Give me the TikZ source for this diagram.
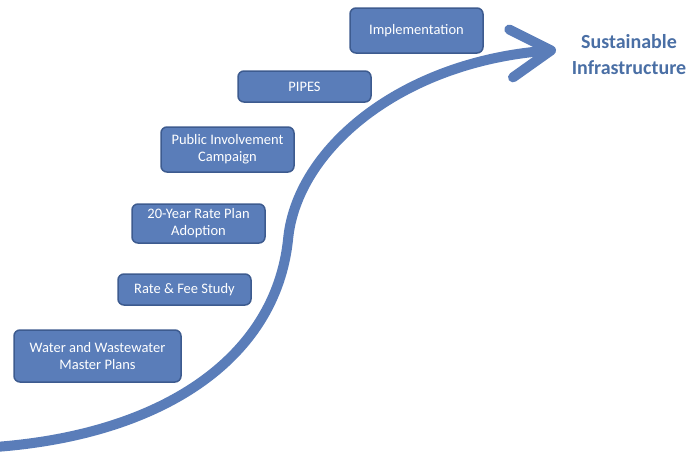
\documentclass[tikz,border=0pt]{standalone}
\usepackage{fontspec}
\setmainfont{Carlito}
\usetikzlibrary{arrows.meta}
\definecolor{stepfill}{HTML}{5A7DB9}
\definecolor{stepline}{HTML}{3D5B8F}
\definecolor{goaltext}{HTML}{4A6FA5}
\tikzset{
  stepbox/.style={draw=stepline,line width=1.5pt,fill=stepfill,rounded corners=6pt,
    text=white,align=center,font=\fontsize{14.5}{17}\selectfont,inner sep=0pt},
}
\begin{document}
\begin{tikzpicture}[x=1pt,y=-1pt]
    \useasboundingbox (0,0) rectangle (690,458);

    % the path up
    \draw [-{Straight Barb[round,length=40pt,width=48pt]},stepfill,line width=10pt,line cap=round]
      (-5,447) .. controls (160,435) and (275,360) .. (288,240)
      .. controls (296,150) and (400,62) .. (556,50);

    % the steps
    \node [stepbox,minimum width=133pt,minimum height=45pt] (impl) at (416.5,30.5) {Implementation};
    \node [stepbox,minimum width=133pt,minimum height=31pt] (pipes) at (304.5,86.5) {PIPES};
    \node [stepbox,minimum width=133pt,minimum height=45pt] (public) at (227.5,149.5) {Public Involvement\\Campaign};
    \node [stepbox,minimum width=133pt,minimum height=39pt] (rateplan) at (198.5,223.5) {20-Year Rate Plan\\Adoption};
    \node [stepbox,minimum width=133pt,minimum height=31pt] (feestudy) at (184.5,289.5) {Rate \& Fee Study};
    \node [stepbox,minimum width=167pt,minimum height=52pt] (masterplans) at (97.5,356) {Water and Wastewater\\Master Plans};

    \node [text=goaltext,align=center,font=\bfseries\fontsize{20}{26}\selectfont] (goal) at (629,55) {Sustainable\\Infrastructure};
\end{tikzpicture}
\end{document}
